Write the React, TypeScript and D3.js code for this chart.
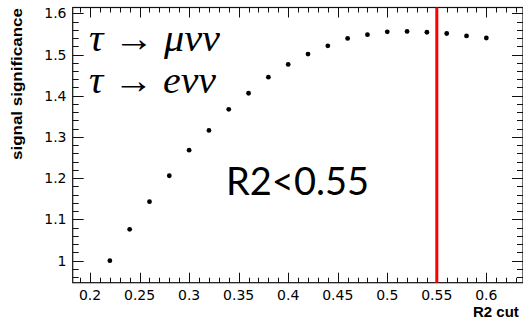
import React from "react";
import * as d3 from "d3";

const cutValues = [0.22, 0.24, 0.26, 0.28, 0.30, 0.32, 0.34, 0.36, 0.38, 0.40, 0.42, 0.44, 0.46, 0.48, 0.50, 0.52, 0.54, 0.56, 0.58, 0.60];
const significance = [1.000, 1.076, 1.143, 1.206, 1.268, 1.316, 1.367, 1.406, 1.445, 1.476, 1.501, 1.521, 1.539, 1.548, 1.555, 1.556, 1.554, 1.551, 1.545, 1.540];
const xTickLabels = ["0.2", "0.25", "0.3", "0.35", "0.4", "0.45", "0.5", "0.55", "0.6"];
const yTickLabels = ["1", "1.1", "1.2", "1.3", "1.4", "1.5", "1.6"];
const chosenCut = 0.55;
const cutLabel = "R2<0.55";
const decayLabels = ["τ → μνν", "τ → eνν"];
const xTitle = "R2 cut";
const yTitle = "signal significance";

const W = 523;
const H = 321;
const L = 72.7;
const R = 523;
const T = 7.5;
const B = 282.7;

export default function App() {
  const x = d3.scaleLinear().domain([0.1825, 0.637]).range([L, R]);
  const y = d3.scaleLinear().domain([0.9466, 1.614]).range([B, T]);

  const xMinor = d3.range(0, 100).map((i) => 0.18 + i * 0.01).filter((v) => x(v) >= L - 0.1 && x(v) <= R + 0.1);
  const yMinor = d3.range(0, 100).map((i) => 0.94 + i * 0.02).filter((v) => y(v) <= B + 0.1 && y(v) >= T - 0.1);
  const isMajorX = (v: number) => Math.abs(v * 20 - Math.round(v * 20)) < 1e-6;
  const isMajorY = (v: number) => Math.abs(v * 10 - Math.round(v * 10)) < 1e-6;

  const axisColor = "#111";
  return (
    <svg width={W} height={H} style={{ position: "absolute", left: 0, top: 0, background: "#fff" }}>
      <rect x={0} y={0} width={W} height={H} fill="#fff" />
      <rect x={L} y={T} width={R - L} height={B - T} fill="none" stroke={axisColor} strokeWidth={1.2} />
      {xMinor.map((v, i) => {
        const len = isMajorX(v) ? 10 : 5;
        const px = Math.round(x(v)) + 0.5;
        return (
          <g key={"xt" + i}>
            <line x1={px} x2={px} y1={B} y2={B - len} stroke={axisColor} strokeWidth={1} />
            <line x1={px} x2={px} y1={T} y2={T + len} stroke={axisColor} strokeWidth={1} />
          </g>
        );
      })}
      {yMinor.map((v, i) => {
        const len = isMajorY(v) ? 11 : 6;
        const py = Math.round(y(v)) + 0.5;
        return (
          <g key={"yt" + i}>
            <line x1={L} x2={L + len} y1={py} y2={py} stroke={axisColor} strokeWidth={1} />
            <line x1={R} x2={R - len} y1={py} y2={py} stroke={axisColor} strokeWidth={1} />
          </g>
        );
      })}
      {xTickLabels.map((t) => (
        <text key={"xl" + t} x={x(+t)} y={300} textAnchor="middle" fontFamily="DejaVu Sans" fontSize={14} fill="#000">
          {t}
        </text>
      ))}
      {yTickLabels.map((t) => (
        <text key={"yl" + t} x={66.5} y={y(+t) + 5} textAnchor="end" fontFamily="DejaVu Sans" fontSize={14} fill="#000">
          {t}
        </text>
      ))}
      <text x={473} y={316.5} fontFamily="Liberation Sans" fontWeight="bold" fontSize={15} fill="#000">
        {xTitle}
      </text>
      <text
        transform="translate(22,8) rotate(-90)"
        textAnchor="end"
        fontFamily="Liberation Sans"
        fontWeight="bold"
        fontSize={14.5}
        textLength={152}
        lengthAdjust="spacingAndGlyphs"
        fill="#000"
      >
        {yTitle}
      </text>
      <line x1={x(chosenCut)} x2={x(chosenCut)} y1={T} y2={B} stroke="#ff0000" strokeWidth={3} />
      {cutValues.map((c, i) => (
        <circle key={"p" + i} cx={x(c)} cy={y(significance[i])} r={2.4} fill="#000" />
      ))}
      <text x={89} y={51} fontFamily="Liberation Serif" fontStyle="italic" fontSize={37} fill="#000" textLength={131} lengthAdjust="spacingAndGlyphs">
        {decayLabels[0]}
      </text>
      <text x={89} y={93} fontFamily="Liberation Serif" fontStyle="italic" fontSize={37} fill="#000" textLength={127} lengthAdjust="spacingAndGlyphs">
        {decayLabels[1]}
      </text>
      <text x={226} y={195} fontFamily="Lato" fontSize={38} fill="#000">
        {cutLabel}
      </text>
    </svg>
  );
}
